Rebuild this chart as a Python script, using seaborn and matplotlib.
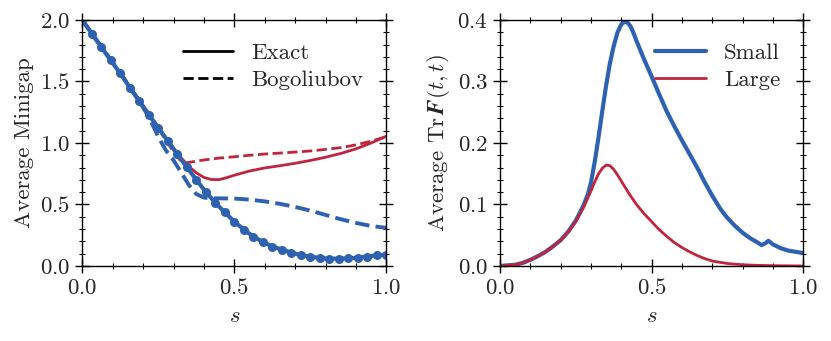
import numpy as np
import pandas as pd
import seaborn as sns
import matplotlib.pyplot as plt
from matplotlib.lines import Line2D
from matplotlib.ticker import MultipleLocator

# left panel: average minigap
s_markers = [k / 32 for k in range(33)]
gap_small_exact = [2.0, 1.889, 1.780, 1.671, 1.565, 1.451, 1.340, 1.231, 1.122, 1.016, 0.908,
                   0.804, 0.701, 0.601, 0.514, 0.435, 0.361, 0.296, 0.239, 0.196, 0.158, 0.133,
                   0.109, 0.087, 0.076, 0.065, 0.060, 0.060, 0.062, 0.068, 0.076, 0.087, 0.092]

s_small_bog = [0.0, 0.05, 0.1, 0.15, 0.2, 0.225, 0.25, 0.275, 0.3, 0.325, 0.35, 0.375, 0.4,
               0.425, 0.45, 0.5, 0.55, 0.6, 0.65, 0.7, 0.75, 0.8, 0.85, 0.9, 0.95, 1.0]
gap_small_bog = [2.0, 1.827, 1.655, 1.48, 1.29, 1.18, 1.05, 0.94, 0.86, 0.76, 0.66, 0.585, 0.556,
                 0.55, 0.55, 0.548, 0.54, 0.525, 0.505, 0.48, 0.45, 0.415, 0.38, 0.35, 0.325, 0.31]

s_large = [0.0, 0.05, 0.1, 0.15, 0.2, 0.25, 0.275, 0.3, 0.325, 0.35, 0.375, 0.4, 0.425, 0.45,
           0.475, 0.5, 0.55, 0.6, 0.65, 0.7, 0.75, 0.8, 0.85, 0.9, 0.95, 1.0]
gap_large_exact = [2.0, 1.827, 1.653, 1.478, 1.303, 1.128, 1.043, 0.96, 0.88, 0.81, 0.757, 0.72,
                   0.703, 0.702, 0.718, 0.738, 0.772, 0.797, 0.815, 0.835, 0.858, 0.884, 0.915,
                   0.952, 1.0, 1.055]

s_large_bog = [0.0, 0.05, 0.1, 0.15, 0.2, 0.225, 0.25, 0.275, 0.3, 0.32, 0.335, 0.35, 0.4, 0.45,
               0.5, 0.55, 0.6, 0.65, 0.7, 0.75, 0.8, 0.85, 0.9, 0.95, 1.0]
gap_large_bog = [2.0, 1.825, 1.65, 1.475, 1.30, 1.21, 1.12, 1.02, 0.93, 0.865, 0.836, 0.842, 0.862,
                 0.877, 0.888, 0.90, 0.91, 0.918, 0.926, 0.935, 0.948, 0.962, 0.985, 1.015, 1.052]

# right panel: average Tr F(t, t)
s_small_tr = [0.0, 0.025, 0.05, 0.075, 0.1, 0.125, 0.15, 0.175, 0.2, 0.225, 0.25, 0.275, 0.29,
              0.3, 0.3125, 0.325, 0.3375, 0.35, 0.3625, 0.375, 0.3875, 0.4, 0.41, 0.42, 0.43,
              0.44, 0.45, 0.475, 0.5, 0.525, 0.55, 0.575, 0.6, 0.625, 0.65, 0.675, 0.7, 0.725,
              0.74, 0.75, 0.775, 0.8, 0.825, 0.85, 0.862, 0.875, 0.885, 0.9, 0.925, 0.95, 0.975,
              1.0]
tr_small = [0.0, 0.001, 0.002, 0.005, 0.010, 0.016, 0.023, 0.032, 0.042, 0.056, 0.074, 0.098,
            0.117, 0.136, 0.17, 0.21, 0.253, 0.294, 0.33, 0.358, 0.380, 0.393, 0.397, 0.396,
            0.390, 0.379, 0.366, 0.336, 0.308, 0.279, 0.251, 0.227, 0.204, 0.182, 0.160, 0.136,
            0.114, 0.094, 0.084, 0.078, 0.065, 0.054, 0.045, 0.038, 0.034, 0.037, 0.041, 0.035,
            0.029, 0.025, 0.023, 0.021]

s_large_tr = [0.0, 0.025, 0.05, 0.075, 0.1, 0.125, 0.15, 0.175, 0.2, 0.225, 0.25, 0.275, 0.3,
              0.3125, 0.325, 0.3375, 0.35, 0.3625, 0.375, 0.3875, 0.4, 0.425, 0.45, 0.475, 0.5,
              0.525, 0.55, 0.575, 0.6, 0.625, 0.65, 0.675, 0.7, 0.725, 0.75, 0.8, 0.85, 0.9, 1.0]
tr_large = [0.0, 0.001, 0.002, 0.005, 0.010, 0.016, 0.023, 0.032, 0.042, 0.055, 0.072, 0.095,
            0.122, 0.137, 0.150, 0.159, 0.164, 0.163, 0.157, 0.148, 0.138, 0.118, 0.100, 0.085,
            0.072, 0.059, 0.048, 0.038, 0.030, 0.023, 0.017, 0.012, 0.008, 0.006, 0.004, 0.002,
            0.001, 0.0005, 0.0]

BLUE = "#2e62b1"
RED = "#c0253d"
FS = 16.5

sns.set_theme(style="ticks")
plt.rcParams["font.family"] = ["cmr10", "DejaVu Serif"]
plt.rcParams["mathtext.fontset"] = "cm"
plt.rcParams["axes.formatter.use_mathtext"] = True
plt.rcParams["font.size"] = FS
plt.rcParams["axes.labelsize"] = FS
plt.rcParams["axes.linewidth"] = 1.0

fig = plt.figure(figsize=(8.31, 3.41), dpi=100)
ax1 = fig.add_axes([0.099, 0.22, 0.366, 0.7214])
ax2 = fig.add_axes([0.6017, 0.22, 0.365, 0.7214])

sns.lineplot(x=s_large_bog, y=gap_large_bog, ax=ax1, color=RED, lw=2.0, ls="--")
sns.lineplot(x=s_large, y=gap_large_exact, ax=ax1, color=RED, lw=2.0)
sns.lineplot(x=s_small_bog, y=gap_small_bog, ax=ax1, color=BLUE, lw=2.8, ls="--")
sns.lineplot(x=s_markers, y=gap_small_exact, ax=ax1, color=BLUE, lw=3.0,
             marker="o", markersize=6.5, markeredgewidth=0)

sns.lineplot(x=s_small_tr, y=tr_small, ax=ax2, color=BLUE, lw=3.0, label="Small")
sns.lineplot(x=s_large_tr, y=tr_large, ax=ax2, color=RED, lw=2.0, label="Large")

handles = [Line2D([], [], color="black", lw=2.0),
           Line2D([], [], color="black", lw=2.0, ls="--")]
leg_kw = dict(loc="upper right", frameon=False, fontsize=FS, handlelength=2.2,
              borderaxespad=0.6, labelspacing=0.3, handletextpad=0.8)
ax1.legend(handles, ["Exact", "Bogoliubov"], **leg_kw)
ax2.legend(**leg_kw)

ax1.set_xlim(0, 1)
ax1.set_ylim(0, 2)
ax1.xaxis.set_major_locator(MultipleLocator(0.5))
ax1.xaxis.set_minor_locator(MultipleLocator(0.1))
ax1.yaxis.set_major_locator(MultipleLocator(0.5))
ax1.yaxis.set_minor_locator(MultipleLocator(0.1))
ax1.set_xlabel("$s$", labelpad=6)
ax1.set_ylabel("Average Minigap")

ax2.set_xlim(0, 1)
ax2.set_ylim(0, 0.4)
ax2.xaxis.set_major_locator(MultipleLocator(0.5))
ax2.xaxis.set_minor_locator(MultipleLocator(0.1))
ax2.yaxis.set_major_locator(MultipleLocator(0.1))
ax2.yaxis.set_minor_locator(MultipleLocator(0.02))
ax2.set_xlabel("$s$", labelpad=6)
ax2.set_ylabel(r"Average $\mathrm{Tr}\,\boldsymbol{F}(t,t)$")

for ax in (ax1, ax2):
    ax.tick_params(which="both", direction="inout", top=True, right=True,
                   labelsize=FS, color="black")
    ax.tick_params(which="major", length=9.5, width=1.0, pad=4)
    ax.tick_params(which="minor", length=4.5, width=0.8)
    for sp in ax.spines.values():
        sp.set_color("black")

fig.savefig("out.png", dpi=100)
